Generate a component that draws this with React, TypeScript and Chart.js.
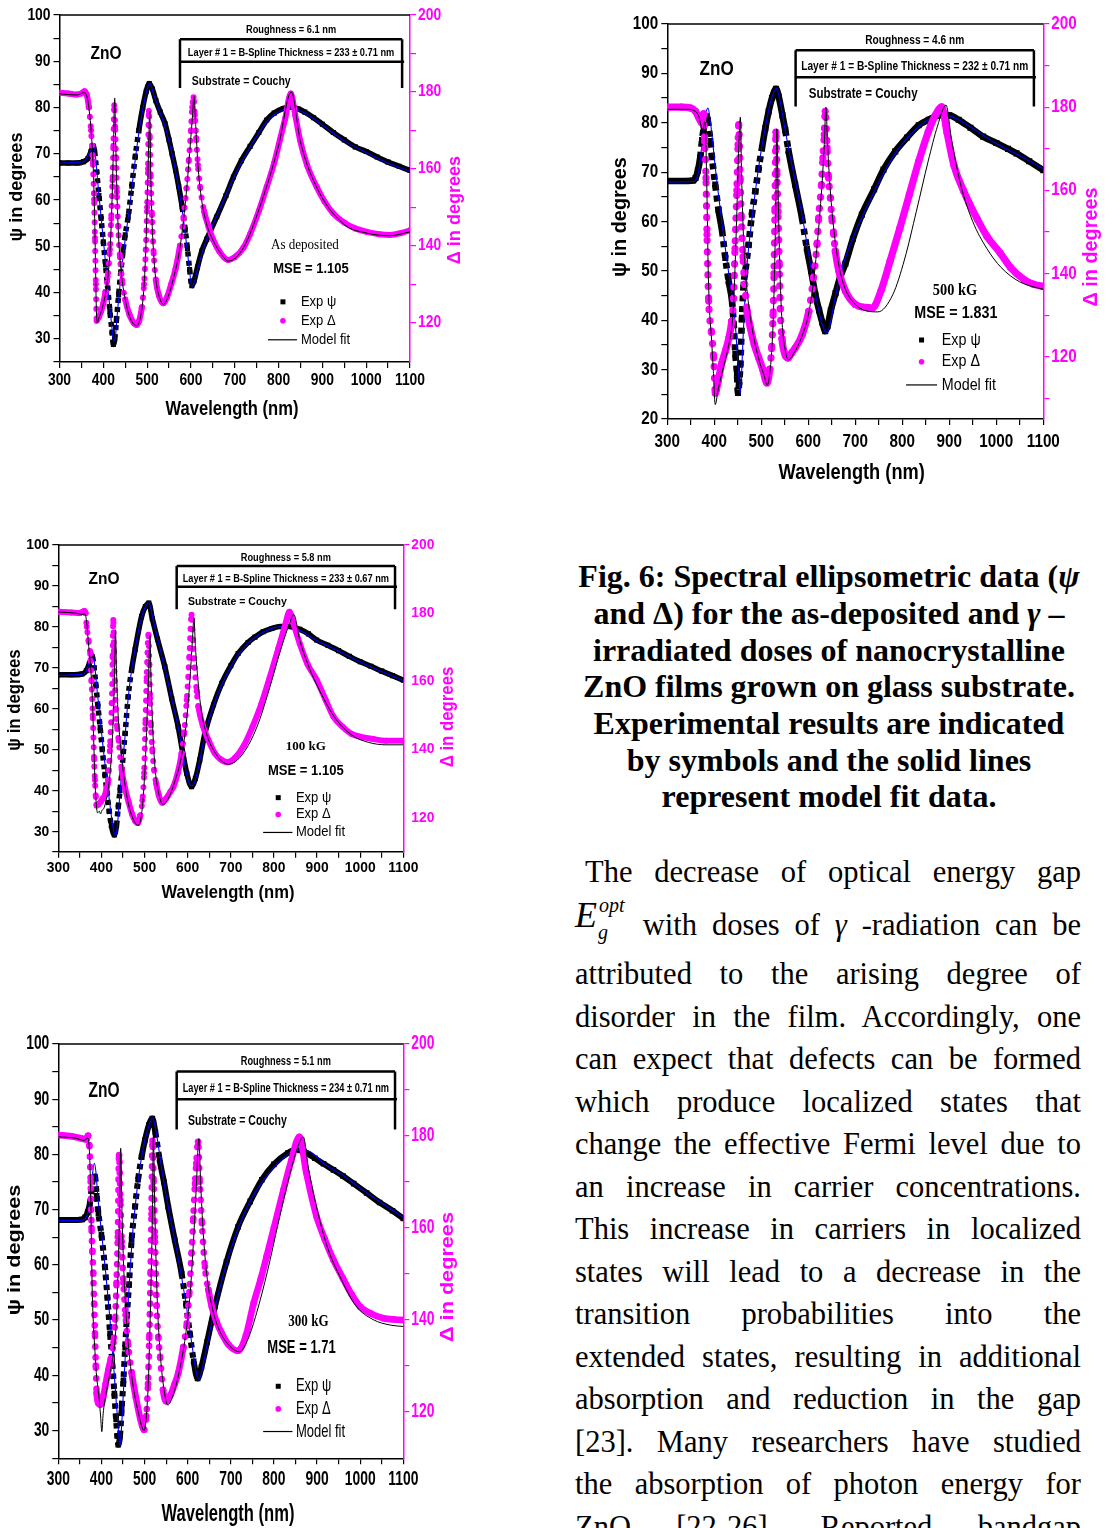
import React, { useEffect, useRef } from "react";
import { Chart, registerables } from "chart.js";

Chart.register(...registerables);

type P = [number, number];

// ---------------- DATA (wavelength nm, value) ----------------
// Panel 1: as deposited
const asDepPsiExp: P[] = [[300,68],[320,68],[340,68],[355,68.3],[365,69],[372,70.5],[377,71.7],[380,70.5],[385,66],[390,61],[395,56],[400,51],[405,46],[410,41],[415,36],[420,31.5],[423,28.8],[426,30],[430,34],[435,39.5],[440,44.5],[445,49],[450,52.5],[457,56.5],[465,63],[473,69.5],[481,75],[490,80],[498,83.5],[505,85.2],[512,84],[520,81.5],[530,79],[541,76.5],[550,73],[557,70],[565,66.5],[572,63],[580,58.5],[587,53.5],[592,49.5],[597,45],[602,41.5],[607,42.5],[615,45.5],[625,49],[636,51.5],[659,56.4],[680,61],[697,65],[715,68.5],[735,71.6],[755,74.6],[773,77.3],[790,78.8],[811,79.8],[827,80.1],[845,79.7],[860,79],[880,77.8],[900,76.4],[925,74.6],[950,73],[975,71.5],[1000,70.5],[1025,69.3],[1050,68.2],[1075,67.3],[1100,66.4]];
const asDepPsiFit: P[] = [[300,68],[355,68.3],[370,70.5],[378,71.8],[382,69.5],[390,61],[400,51.5],[410,41.5],[418,34],[424,29.5],[427,30],[432,35.5],[440,43.5],[450,51.5],[460,58.5],[470,66.5],[480,73.8],[490,79.5],[500,84],[506,85.3],[515,82.8],[530,78.8],[545,74.5],[560,68.5],[575,61],[588,52],[596,45.5],[602,41.3],[607,42],[615,45],[630,50],[660,56.8],[700,65.3],[735,71.4],[775,77.2],[811,79.6],[827,79.9],[860,78.8],[900,76.2],[950,72.8],[1000,70.3],[1050,68],[1100,66.2]];
const asDepDeltaExp: P[] = [[300,179.8],[320,179.6],[340,179.3],[350,179.6],[357,180.2],[362,179.3],[367,176],[372,170],[376,162],[379,152],[381,142],[383,130],[385,120.5],[390,121.5],[395,123],[400,125],[405,128],[410,132],[415,139],[418,147],[421,157],[423,166],[425,176.5],[427,171],[429,163],[431,154],[434,145],[438,137],[443,131],[450,126],[460,122],[470,119.8],[476,119.4],[482,120.5],[488,124],[493,130],[497,139],[500,150],[502,160],[504,175],[506,168],[508,158],[511,148],[515,138],[520,131],[527,127],[537,125],[545,126.5],[555,130],[565,134],[575,140],[583,147],[590,155],[595,162],[600,170],[603,176],[606,178.6],[609,174],[612,168],[616,161],[621,155.3],[630,149],[640,145],[651,141.5],[665,138.5],[685,136.3],[700,137],[720,139.5],[735,143],[755,149],[773,155.3],[790,161.5],[803,167.5],[815,173],[828,179.6],[838,174],[849,167.5],[865,161],[887,155.3],[905,151.5],[925,148.4],[950,146],[975,144.5],[1001,143.6],[1030,143],[1054,142.8],[1080,143.3],[1100,144]];
const asDepDeltaFit: P[] = [[300,179.5],[340,179.2],[355,179.8],[362,179],[368,175],[374,167],[378,157],[381,143],[384,124],[386,120],[390,121.2],[400,124.8],[410,131.5],[416,140],[420,152],[423,165],[426,178.4],[428,168],[431,154],[435,142],[440,134],[450,126],[462,121],[476,119.2],[485,121.5],[492,128],[497,139],[501,155],[504,168],[506,175],[508,160],[511,147],[516,136],[522,129.5],[530,126],[537,124.7],[548,126.8],[560,131.5],[575,139.5],[588,152],[597,164],[603,173],[607,178.8],[611,171],[616,161],[623,153],[635,146],[650,141.5],[668,138],[685,136],[720,139.5],[760,151],[800,166],[829,180],[850,167],[890,154.5],[950,145.5],[1000,143.3],[1054,142.6],[1100,143.6]];

// Panel 2: 500 kG
const kg500PsiExp: P[] = [[300,68.2],[330,68.2],[355,68.3],[360,68.8],[365,70.3],[370,72.9],[374,76.5],[377.5,78.9],[382.3,81.3],[386,80.5],[391.6,76.3],[395,73],[402,67.5],[409,62.3],[416.4,58.2],[423.5,52.6],[430.6,47.9],[437.7,43.9],[441.2,39.3],[444.8,33.2],[448.3,29.2],[450.4,25.3],[453,27.5],[455.4,31],[458.9,40.5],[462.5,47.2],[466,49.9],[473,55.3],[480,61.4],[487.3,66.1],[494.4,70.8],[501.5,74.9],[508.6,78.9],[515.7,82.3],[522.8,85],[531.3,86.9],[537,85.3],[545,81.5],[551,78.5],[558,74.3],[572,67.5],[586.6,60.7],[597,54.5],[606,50],[615,45.2],[623,42],[630,39.5],[636,37.8],[641,38.8],[648,42],[658,45.5],[667,48.5],[679,51.5],[695,56.5],[714,61.4],[740,66.5],[760,70.5],[785,74.2],[810,77],[835,79.5],[856,80.6],[884,81.6],[900,81.5],[920,80.6],[945,79],[972,77.2],[1000,75.9],[1025,74.7],[1043,73.8],[1070,72.2],[1100,70.4]];
const kg500PsiFit: P[] = [[300,68],[355,68.1],[362,68.6],[368,71],[373,75],[378,79.5],[383,82.3],[386.5,83],[390,81.5],[395,77.5],[402,71],[410,64.5],[420,57],[430,50],[440,43.5],[446,37.5],[450,31.5],[453,27.5],[455,25.1],[458,29],[461,36],[465,44],[470,51.5],[480,60.5],[490,68],[500,74.5],[510,79.8],[520,84.3],[532,87],[538,85.3],[550,79],[560,73.8],[575,67],[590,59.5],[605,51],[618,44],[630,39],[640,37.5],[647,39.5],[658,45],[670,50],[690,55.5],[715,61],[745,67],[785,73.8],[830,78.8],[870,81.3],[890,81.6],[920,80.6],[960,78.2],[1000,75.8],[1050,73.3],[1100,70.7]];
const kg500DeltaExp: P[] = [[300,180],[330,180],[350,179.8],[360,179],[367,177.5],[373.8,176.2],[377.4,178.4],[379.5,171.8],[382.3,163],[384.5,149.4],[388,133.4],[393.7,126.2],[398.7,119.8],[402.2,111.3],[408,114],[416,118.5],[424,121.5],[431,124.5],[437,128.5],[441,134],[444,146],[448,160],[450.5,171],[452,175.8],[455,163],[457.5,153.4],[461,144],[464.6,137.4],[470,131],[476.7,127],[485,123],[494.4,119.8],[503,117],[512,113.7],[518,117],[522,122],[525,130],[527,140],[529,155],[531,174],[533.4,163.8],[535.5,155],[538.3,142],[540.4,131.6],[544,124.4],[551,120.4],[557,119.7],[565,121],[572,122.1],[587,125.3],[601,130.9],[611,139],[618.5,147],[622,153.4],[628,161.4],[631,167.8],[634,173.4],[636,179],[640,170.2],[643,163],[647,158.2],[650,153.4],[654,149.4],[657.5,145.4],[665,140.6],[679,135.8],[700,132.6],[728,131.8],[736,131.7],[755,136],[774,143],[795,151],[815,159],[835,167],[855,174],[870,178],[884,180.1],[895,174],[910,166],[930,160],[942,157],[960,153],[980,149],[1008,145],[1030,141.5],[1060,138.5],[1080,137.4],[1100,136.9]];
const kg500DeltaFit: P[] = [[300,179.5],[340,179.5],[360,179],[367,177.8],[372,175.5],[376,174],[379,176.5],[381,175.5],[383,167],[385,155],[387,141],[390,131],[394,124.5],[398,116.5],[402,108.5],[408,112],[416,116],[424,119.5],[431,123],[437,127],[441,132.5],[444,141],[448,155],[451,167],[455.5,177.6],[458,164],[461,152],[465,142.5],[471,134.5],[478,128.5],[487,123],[497,118.5],[506,115.5],[512.5,113.2],[519,117],[523,123],[526,131],[529,145],[531,158],[533,174.8],[535.5,161],[538,148],[541,136],[545,127],[551,121.5],[558,119.3],[570,121],[585,124.5],[600,130],[611,138],[619,147],[625,155],[630,163],[634,171],[637.5,180],[641,171],[645,163],[650,155.5],[657,148],[665,142],[678,136.5],[700,132.6],[725,131],[748,130.8],[780,135],[805,143.5],[830,155],[855,167],[875,175.5],[893,180.5],[905,172],[925,161],[950,152.5],[980,146],[1010,141.5],[1050,138],[1100,136.2]];

// Panel 3: 100 kG
const kg100PsiExp: P[] = [[300,68.3],[330,68.3],[355,68.5],[365,69.3],[372,71],[379,72.7],[383,70],[387,66],[392,60.5],[397,55.5],[402,50],[408,44],[413,39.5],[418,35],[423,31.5],[430,29.2],[435,31.5],[439,36],[443,40],[447,44.2],[451,49.5],[455,54],[462,63],[470,69.5],[478,74.4],[486,79],[493,82.5],[502,85],[510,85.8],[518,82],[530,77],[547,70.3],[563,62.5],[578,55.6],[590,48.5],[598,44.2],[609,41],[618,43],[628,47.5],[640,54],[660,61],[679,66.2],[700,70.5],[717,73.5],[740,76.2],[756,77.5],[775,78.8],[795,79.6],[814,80.1],[835,80.1],[860,79.4],[880,78.3],[899,76.8],[925,75.5],[950,74.2],[975,72.8],[1000,71.5],[1025,70.4],[1050,69.2],[1075,68.1],[1100,67]];
const kg100PsiFit: P[] = [[300,68.2],[355,68.4],[368,70],[375,73],[379,74.3],[383,72],[390,64.5],[398,56.5],[406,48.5],[414,41.5],[421,35.5],[427,31],[433,29],[437,31.5],[442,38],[448,45.5],[455,53.5],[462,62.5],[470,69.5],[480,75.8],[490,81],[500,84.5],[510,85.9],[520,81.7],[535,75],[550,68.5],[565,61.5],[580,54.5],[595,45.5],[605,41.5],[612,41.2],[620,43.5],[640,53.5],[660,60.8],[700,70.3],[740,76],[780,79],[815,80],[850,79.6],[900,76.6],[950,74.1],[1000,71.4],[1050,69.1],[1100,66.9]];
const kg100DeltaExp: P[] = [[300,180.4],[330,180.2],[350,180],[360,180.6],[363,180],[366,176],[370,172],[374,168],[377,160],[380,150],[383,137],[385,131],[387,126],[389,123.5],[393,123.8],[398,124.5],[403,125.5],[408,126.5],[412,128.5],[416,131],[420,141],[424,153.5],[426,167],[427.5,178],[429,169],[431,160],[433,152],[436,147],[440,142.5],[447,134],[455,128.5],[463,124.5],[471,121],[478,119],[484,118.3],[490,120.5],[495,125],[499,133],[502,147.6],[505,161],[509,173.6],[511,165],[513,155],[515,147],[518,140],[522,134],[527,130],[533,126.5],[541,124.3],[550,125.5],[560,127.5],[567,129],[577,133],[586,138.8],[592,145],[598,154.5],[604,167.2],[609,179.5],[612,172],[616,164],[621,157],[625,152.5],[635,147],[648,142.7],[663,138.8],[677,137],[692,136.2],[710,137.5],[730,141],[750,146.5],[770,153],[790,161],[810,169.5],[825,176],[836,180.4],[845,177],[860,171],[878,165],[899,160.4],[920,154.5],[938,149.6],[960,146.5],[980,144.5],[1000,143.7],[1030,143],[1060,142.5],[1100,142.5]];
const kg100DeltaFit: P[] = [[300,180.3],[340,180],[355,179.6],[362,179.8],[366,177],[370,171],[375,164],[379,155],[382,143],[385,131],[388,124],[391,121.3],[395,121.8],[398,121],[401,122],[405,122.5],[410,124.5],[416,128.5],[422,136],[427,148],[430,160],[432.6,175.1],[435,163],[438,152],[443,142.5],[450,134],[460,125.5],[472,120],[485,117.6],[492,120],[497,126],[502,137],[506,150],[509.5,162],[512.6,173.5],[515,160],[519,146],[524,135],[532,127.5],[543,123.8],[555,125.5],[570,130.5],[585,137.5],[597,148],[605,160],[611,172],[614.5,178.6],[618,170],[624,160],[632,151],[645,144],[662,139.3],[680,136.4],[695,135.6],[715,136.8],[740,141],[765,148],[790,158],[815,169],[835,176.5],[846,179.6],[860,172],[880,164.5],[905,157.5],[940,149.5],[980,144.2],[1020,142],[1060,141.3],[1100,141.3]];

// Panel 4: 300 kG
const kg300PsiExp: P[] = [[300,68.1],[330,68.1],[355,68.2],[362,68.6],[368,69.5],[373,71],[377,73.5],[381,75.8],[385,76],[389,72.5],[393,69.3],[400,65.5],[408,59.7],[414,54],[420,47.6],[425,42.5],[430,36.7],[434,32],[437,29],[439,27.4],[443,29],[447,34],[451,39.1],[455,45],[459,50.6],[464,56.5],[470,64.5],[478,70.5],[485,75.4],[493,79.5],[501,82.6],[510,85.3],[518,86.5],[525,84],[535,79],[545,75],[555,70.5],[570,64.5],[586,58.4],[596,53],[605,47.6],[614,42.5],[623,39.4],[632,41.5],[645,46],[663,52.4],[690,60.5],[717,66.9],[745,71.5],[772,75.4],[800,78.2],[833,80.3],[850,80.8],[870,80.5],[895,79.3],[915,78.3],[938,77.2],[960,76.1],[985,74.7],[1015,73],[1045,71.3],[1075,69.8],[1100,68.4]];
const kg300PsiFit: P[] = [[300,68],[355,68.1],[365,68.6],[372,71],[378,75.5],[383.5,78.4],[387,77],[392,72],[400,66],[410,58.5],[420,50],[428,42],[434,35.5],[439,30.5],[443,27.2],[447,31],[452,38.5],[458,47.5],[465,57],[472,65.3],[480,71.8],[490,78],[500,82.3],[510,85.2],[519,86.6],[527,84],[540,77.3],[555,70.5],[575,62.5],[595,53.5],[610,45.5],[620,40.5],[626,39.2],[632,40.5],[645,45.5],[665,52.8],[700,62.8],[740,70.8],[780,75.8],[820,79.2],[850,80.8],[880,80.6],[920,78.1],[960,76.2],[1000,73.9],[1050,71.2],[1100,68.6]];
const kg300DeltaExp: P[] = [[300,180.2],[330,179.9],[355,179.4],[365,179.2],[369,180],[372,178],[375,170],[377,160],[379,155],[381,150],[383,143.5],[385,137],[387,130],[389,124],[393,121.8],[397,121.5],[401,121.8],[405,123.5],[410,126],[416,129],[422,131.5],[428,135],[432,140],[435,148],[438,158],[441,175.8],[444,166],[447,157],[451,148],[456,141],[462,134.5],[470,128.5],[480,123],[490,118.5],[499,116],[504,119],[508,126],[511,136],[514,150],[516,163],[518.5,178.9],[521,170],[524,158],[528,143],[532,136],[536,131.9],[543,124.6],[550,122.2],[560,123.5],[570,126],[578,128.3],[590,134],[598,139.2],[604,146],[609,154.4],[613,162],[617,169.6],[620,174],[624,178.7],[628,170],[633,161],[640,151.5],[648,146.5],[656,142.8],[667,139.5],[679,137],[695,134.5],[717,133.2],[735,136.5],[753,143.6],[770,149],[783,153.7],[800,160],[822,168.2],[840,174.5],[859,179.8],[875,172],[899,162.4],[918,157.5],[938,153],[960,149],[980,145.5],[1000,142.8],[1025,141.3],[1054,140.3],[1080,140],[1100,139.9]];
const kg300DeltaFit: P[] = [[300,179.8],[340,179.5],[360,179],[368,179.5],[372,177],[375,168],[377,155],[379,145],[382,138],[385,133],[388,128.5],[392,125],[395,122.5],[398,119],[401,115.6],[404,119.5],[410,123.5],[418,127.5],[426,131.5],[432,136],[436,143],[439,152],[442,163],[444.7,177.3],[447,166],[451,153],[456,143],[463,134],[472,126.5],[485,120],[499,115.8],[505,120],[509,127],[513,140],[516,152],[518.5,165],[520.5,180],[523,168],[526,155],[530,143],[536,133],[544,125.5],[554,121.4],[566,123.5],[580,128.5],[595,136.5],[606,146],[614,158],[620,169],[626,179.4],[630,170],[636,159],[644,150],[656,143],[672,138],[695,134.5],[720,133],[740,135.8],[760,141.5],[785,150.5],[810,161],[835,171],[855,177.5],[868,179.8],[880,173],[900,164],[925,155.5],[955,149],[990,143],[1030,140],[1070,138.8],[1100,138.5]];

// tick labels
const wavelengthTickLabels = [300, 400, 500, 600, 700, 800, 900, 1000, 1100];
const psiTickLabels = [30, 40, 50, 60, 70, 80, 90, 100];
const psiTickLabelsWide = [20, 30, 40, 50, 60, 70, 80, 90, 100];
const deltaTickLabels = [120, 140, 160, 180, 200];

// panel texts
const roughnessTexts = ["Roughness = 6.1 nm", "Roughness = 4.6 nm", "Roughness = 5.8 nm", "Roughness = 5.1 nm"];
const layerTexts = [
  "Layer # 1 = B-Spline Thickness = 233 \u00b1 0.71 nm",
  "Layer # 1 = B-Spline Thickness = 232 \u00b1 0.71 nm",
  "Layer # 1 = B-Spline Thickness = 233 \u00b1 0.67 nm",
  "Layer # 1 = B-Spline Thickness = 234 \u00b1 0.71 nm",
];
const doseLabels = ["As deposited", "500 kG", "100 kG", "300 kG"];
const mseTexts = ["MSE = 1.105", "MSE = 1.831", "MSE = 1.105", "MSE = 1.71"];

// ---------------- STYLE / LAYOUT ----------------
const MAGENTA = "#ff00ff";
const BLUE = "#0000ff";
const SANS = '"Liberation Sans", Arial, Helvetica, sans-serif';
const SERIF = '"Liberation Serif", "Times New Roman", serif';

interface Ann {
  boxX0: number; boxX1: number; boxTop: number; boxMid: number; boxBot: number;
  roughY: number; layerY: number; subX: number; subY: number;
  znoX: number; znoY: number; labelX: number; labelY: number; mseX: number; mseY: number;
  legMarkX: number; legTextX: number; legY: [number, number, number]; legLine: [number, number];
}

interface Panel {
  idx: number;
  left: number; top: number; w: number; h: number;
  area: { l: number; r: number; t: number; b: number };
  psiMin: number; deltaMin: number;
  psiLabels: number[];
  psiExp: P[]; psiFit: P[]; deltaExp: P[]; deltaFit: P[];
  fx: number; fy: number; lw: number;
  xLabelY: number; xTitleX: number; xTitleY: number;
  yTitleX: number; yTitleY: number; y2TitleX: number; y2TitleY: number;
  ann: Ann;
}

const panels: Panel[] = [
  {
    idx: 0, left: 0, top: 0, w: 475, h: 425,
    area: { l: 59.5, r: 410, t: 15, b: 362 },
    psiMin: 25, deltaMin: 109.75, psiLabels: psiTickLabels,
    psiExp: asDepPsiExp, psiFit: asDepPsiFit, deltaExp: asDepDeltaExp, deltaFit: asDepDeltaFit,
    fx: 1, fy: 1, lw: 1,
    xLabelY: 380, xTitleX: 232, xTitleY: 410, yTitleX: 17, yTitleY: 187, y2TitleX: 455, y2TitleY: 210,
    ann: { boxX0: 575, boxX1: 1082, boxTop: 94.75, boxMid: 89.9, boxBot: 84.2, roughY: 96.8, layerY: 91.8, subX: 602, subY: 85.7,
      znoX: 406, znoY: 91.6, labelX: 860, labelY: 50.3, mseX: 874, mseY: 45.1,
      legMarkX: 810, legTextX: 851, legY: [38, 33.9, 29.8], legLine: [776, 842] },
  },
  {
    idx: 1, left: 600, top: 0, w: 505, h: 490,
    area: { l: 67.3, r: 443.3, t: 24, b: 419 },
    psiMin: 20, deltaMin: 105.05, psiLabels: psiTickLabelsWide,
    psiExp: kg500PsiExp, psiFit: kg500PsiFit, deltaExp: kg500DeltaExp, deltaFit: kg500DeltaFit,
    fx: 1.1, fy: 1.1, lw: 1.2,
    xLabelY: 441.7, xTitleX: 251.7, xTitleY: 473, yTitleX: 20, yTitleY: 217, y2TitleX: 491.7, y2TitleY: 247,
    ann: { boxX0: 573, boxX1: 1080, boxTop: 94.7, boxMid: 89.2, boxBot: 83.3, roughY: 96.6, layerY: 91.4, subX: 601, subY: 85.8,
      znoX: 405, znoY: 90.9, labelX: 912, labelY: 46, mseX: 914, mseY: 41.4,
      legMarkX: 841, legTextX: 884, legY: [36, 31.6, 26.9], legLine: [808, 874] },
  },
  {
    idx: 2, left: 0, top: 530, w: 475, h: 380,
    area: { l: 58.3, r: 403.3, t: 15, b: 321.7 },
    psiMin: 25.1, deltaMin: 109.9, psiLabels: psiTickLabels,
    psiExp: kg100PsiExp, psiFit: kg100PsiFit, deltaExp: kg100DeltaExp, deltaFit: kg100DeltaFit,
    fx: 1, fy: 0.93, lw: 1,
    xLabelY: 338, xTitleX: 228, xTitleY: 363, yTitleX: 15, yTitleY: 170, y2TitleX: 448, y2TitleY: 187,
    ann: { boxX0: 574.5, boxX1: 1080.8, boxTop: 94.9, boxMid: 89.8, boxBot: 84.3, roughY: 96.7, layerY: 91.7, subX: 600.7, subY: 86.2,
      znoX: 406, znoY: 91.6, labelX: 874, labelY: 50.7, mseX: 874, mseY: 44.9,
      legMarkX: 810, legTextX: 851, legY: [38.3, 34.2, 29.8], legLine: [775, 843] },
  },
  {
    idx: 3, left: 0, top: 1030, w: 475, h: 498,
    area: { l: 58.3, r: 403.3, t: 14, b: 428.3 },
    psiMin: 24.95, deltaMin: 109.8, psiLabels: psiTickLabels,
    psiExp: kg300PsiExp, psiFit: kg300PsiFit, deltaExp: kg300DeltaExp, deltaFit: kg300DeltaFit,
    fx: 1, fy: 1.2, lw: 1.1,
    xLabelY: 450, xTitleX: 228, xTitleY: 485, yTitleX: 15, yTitleY: 220, y2TitleX: 448, y2TitleY: 247,
    ann: { boxX0: 574.5, boxX1: 1080.8, boxTop: 95, boxMid: 90, boxBot: 84.5, roughY: 96.8, layerY: 92, subX: 600.7, subY: 86.1,
      znoX: 406, znoY: 91.5, labelX: 880, labelY: 49.7, mseX: 864, mseY: 44.9,
      legMarkX: 810, legTextX: 851, legY: [38, 33.9, 29.8], legLine: [775, 843] },
  },
];

interface TO { size: number; bold?: boolean; italic?: boolean; family?: string; color?: string; align?: CanvasTextAlign; sx?: number; sy?: number; rot?: number; }

function T(ctx: CanvasRenderingContext2D, s: string, x: number, y: number, o: TO) {
  ctx.save();
  ctx.translate(x, y);
  if (o.rot) ctx.rotate(o.rot);
  ctx.scale(o.sx ?? 1, o.sy ?? 1);
  ctx.font = `${o.italic ? "italic " : ""}${o.bold ? "bold " : ""}${o.size}px ${o.family ?? SANS}`;
  ctx.fillStyle = o.color ?? "#000";
  ctx.textAlign = o.align ?? "center";
  ctx.textBaseline = "middle";
  ctx.fillText(s, 0, 0);
  ctx.restore();
}

const toXY = (arr: P[]) => arr.map(([x, y]) => ({ x, y }));
const steep = (c: any) => Math.abs(c.p1.y - c.p0.y) > 6 * Math.abs(c.p1.x - c.p0.x);

function decorPlugin(p: Panel) {
  return {
    id: "decor" + p.idx,
    afterDraw(chart: any) {
      const ctx: CanvasRenderingContext2D = chart.ctx;
      const ca = chart.chartArea;
      const xs = chart.scales.x, ys = chart.scales.y, y2 = chart.scales.y2;
      const X = (v: number) => xs.getPixelForValue(v);
      const Y = (v: number) => ys.getPixelForValue(v);
      const fx = p.fx, fy = p.fy;
      const N = 0.84; // condensed factor

      // top frame line
      ctx.save();
      ctx.strokeStyle = "#000";
      ctx.lineWidth = 1.5;
      ctx.beginPath();
      ctx.moveTo(ca.left, ca.top);
      ctx.lineTo(ca.right, ca.top);
      ctx.stroke();
      ctx.restore();

      // tick labels
      for (const v of p.psiLabels) T(ctx, String(v), ca.left - 9, Y(v), { size: 16.5, bold: true, sx: N * fx, sy: fy, align: "right" });
      for (const v of deltaTickLabels) T(ctx, String(v), ca.right + 8, y2.getPixelForValue(v), { size: 16.5, bold: true, sx: N * fx, sy: fy, align: "left", color: MAGENTA });
      for (const v of wavelengthTickLabels) T(ctx, String(v), X(v), p.xLabelY, { size: 16.5, bold: true, sx: N * fx, sy: fy });

      // axis titles
      T(ctx, "Wavelength (nm)", p.xTitleX, p.xTitleY, { size: 19.5, bold: true, sx: 0.85 * fx, sy: fy });
      T(ctx, "\u03c8 in degrees", p.yTitleX, p.yTitleY, { size: 19, bold: true, sx: 0.95 * fy, sy: fx, rot: -Math.PI / 2 });
      T(ctx, "\u0394 in degrees", p.y2TitleX, p.y2TitleY, { size: 19, bold: true, sx: 0.95 * fy, sy: fx, rot: -Math.PI / 2, color: MAGENTA });

      // annotation box
      const a = p.ann;
      ctx.save();
      ctx.strokeStyle = "#000";
      ctx.lineWidth = 2.5;
      ctx.beginPath();
      ctx.moveTo(X(a.boxX0), Y(a.boxTop)); ctx.lineTo(X(a.boxX1), Y(a.boxTop));
      ctx.moveTo(X(a.boxX0), Y(a.boxMid)); ctx.lineTo(X(a.boxX1) + 2, Y(a.boxMid));
      ctx.moveTo(X(a.boxX0), Y(a.boxTop)); ctx.lineTo(X(a.boxX0), Y(a.boxBot));
      ctx.moveTo(X(a.boxX1), Y(a.boxTop)); ctx.lineTo(X(a.boxX1), Y(a.boxBot));
      ctx.stroke();
      ctx.restore();
      const cx = (X(a.boxX0) + X(a.boxX1)) / 2;
      T(ctx, roughnessTexts[p.idx], cx, Y(a.roughY), { size: 11, bold: true, sx: N * fx, sy: fy });
      T(ctx, layerTexts[p.idx], cx, Y(a.layerY), { size: 11, bold: true, sx: N * fx, sy: fy });
      T(ctx, "Substrate = Couchy", X(a.subX), Y(a.subY), { size: 12.5, bold: true, sx: N * fx, sy: fy, align: "left" });
      T(ctx, "ZnO", X(a.znoX), Y(a.znoY), { size: 18.5, bold: true, sx: N * fx, sy: fy });
      T(ctx, doseLabels[p.idx], X(a.labelX), Y(a.labelY), { size: 14.5, bold: p.idx !== 0, family: SERIF, sx: 0.9 * fx, sy: fy });
      T(ctx, mseTexts[p.idx], X(a.mseX), Y(a.mseY), { size: 15.5, bold: true, sx: N * fx, sy: fy });

      // legend
      const mx = X(a.legMarkX);
      ctx.save();
      ctx.fillStyle = "#000";
      ctx.fillRect(mx - 2.5, Y(a.legY[0]) - 2.5, 5, 5);
      ctx.fillStyle = MAGENTA;
      ctx.beginPath();
      ctx.arc(mx, Y(a.legY[1]), 2.8, 0, Math.PI * 2);
      ctx.fill();
      ctx.strokeStyle = "#000";
      ctx.lineWidth = 1.2;
      ctx.beginPath();
      ctx.moveTo(X(a.legLine[0]), Y(a.legY[2]));
      ctx.lineTo(X(a.legLine[1]), Y(a.legY[2]));
      ctx.stroke();
      ctx.restore();
      const lt = X(a.legTextX);
      T(ctx, "Exp \u03c8", lt, Y(a.legY[0]), { size: 15.5, sx: N * fx, sy: fy, align: "left" });
      T(ctx, "Exp \u0394", lt, Y(a.legY[1]), { size: 15.5, sx: N * fx, sy: fy, align: "left" });
      T(ctx, "Model fit", lt, Y(a.legY[2]), { size: 15.5, sx: N * fx, sy: fy, align: "left" });
    },
  };
}

function makeConfig(p: Panel): any {
  const a = p.area;
  const lw = p.lw;
  return {
    type: "line",
    data: {
      datasets: [
        {
          label: "Model fit \u0394", data: toXY(p.deltaFit), yAxisID: "y2",
          borderColor: "#000", borderWidth: 1, pointRadius: 0, cubicInterpolationMode: "monotone", fill: false,
        },
        {
          label: "Exp \u0394", data: toXY(p.deltaExp), yAxisID: "y2",
          borderColor: MAGENTA, borderWidth: 6 * lw, borderCapStyle: "round", borderJoinStyle: "round",
          pointRadius: 3 * lw, pointStyle: "circle", pointBackgroundColor: MAGENTA, pointBorderWidth: 0,
          cubicInterpolationMode: "monotone", fill: false,
          segment: { borderDash: (c: any) => (steep(c) ? [0.1, 9.5 * lw] : undefined) },
        },
        {
          label: "Model fit \u03c8", data: toXY(p.psiFit), yAxisID: "y",
          borderColor: BLUE, borderWidth: 1.1, pointRadius: 0, cubicInterpolationMode: "monotone", fill: false,
        },
        {
          label: "Exp \u03c8", data: toXY(p.psiExp), yAxisID: "y",
          borderColor: "#000", borderWidth: 5.5 * lw, borderCapStyle: "butt", borderJoinStyle: "round",
          pointRadius: 3.6 * lw, pointStyle: "rect", pointBackgroundColor: "#000", pointBorderWidth: 0,
          cubicInterpolationMode: "monotone", fill: false,
          segment: { borderDash: (c: any) => (steep(c) ? [5 * lw, 4 * lw] : undefined) },
        },
      ],
    },
    options: {
      animation: false,
      responsive: false,
      maintainAspectRatio: false,
      devicePixelRatio: 1,
      events: [],
      layout: { padding: { top: a.t, left: 0, right: 0, bottom: 0 } },
      plugins: { legend: { display: false }, tooltip: { enabled: false } },
      scales: {
        x: {
          type: "linear", min: 300, max: 1100,
          afterFit: (s: any) => { s.height = p.h - a.b; },
          ticks: { display: false, stepSize: 50 },
          grid: { drawOnChartArea: false, drawTicks: true, tickLength: 6, color: "#000", tickColor: "#000", lineWidth: 1.2 },
          border: { display: true, color: "#000", width: 1.5 },
        },
        y: {
          type: "linear", position: "left", min: p.psiMin, max: 100,
          afterFit: (s: any) => { s.width = a.l; },
          ticks: { display: false, stepSize: 5 },
          grid: { drawOnChartArea: false, drawTicks: true, tickLength: 6, color: "#000", tickColor: "#000", lineWidth: 1.2 },
          border: { display: true, color: "#000", width: 1.5 },
        },
        y2: {
          type: "linear", position: "right", min: p.deltaMin, max: 200,
          afterFit: (s: any) => { s.width = p.w - a.r; },
          ticks: { display: false, stepSize: 10 },
          grid: {
            drawOnChartArea: false, drawTicks: true, tickLength: 6, color: MAGENTA, lineWidth: 1.2,
            tickColor: (c: any) => (c.tick && Math.abs(c.tick.value % 10) < 1e-6 ? MAGENTA : "rgba(0,0,0,0)"),
          },
          border: { display: true, color: MAGENTA, width: 1.5 },
        },
      },
    },
    plugins: [decorPlugin(p)],
  };
}

function PanelChart({ p }: { p: Panel }) {
  const ref = useRef<HTMLCanvasElement>(null);
  useEffect(() => {
    const chart = new Chart(ref.current as HTMLCanvasElement, makeConfig(p));
    return () => chart.destroy();
  }, [p]);
  return (
    <canvas
      ref={ref}
      width={p.w}
      height={p.h}
      style={{ position: "absolute", left: p.left, top: p.top, width: p.w, height: p.h }}
    />
  );
}

// ---------------- TEXT COLUMN ----------------
const captionLines: React.ReactNode[] = [
  <>Fig. 6: Spectral ellipsometric data (<i>{"\u03c8"}</i></>,
  <>and {"\u0394"}) for the as-deposited and <i>{"\u03b3"}</i> {"\u2013"}</>,
  "irradiated doses of nanocrystalline",
  "ZnO films grown on glass substrate.",
  "Experimental results are indicated",
  "by symbols and the solid lines",
  "represent model fit data.",
];

const BODY_FS = 30.5;
const BODY_BASE = 0.891 * BODY_FS - (1.107 * BODY_FS - BODY_FS) / 2;

const bodyLines: React.ReactNode[] = [
  "The decrease of optical energy gap",
  <>
    <span style={{ fontStyle: "italic", fontSize: 36, position: "relative", top: -8 }}>E</span>
    <span style={{ display: "inline-block", position: "relative", width: 31, height: 1 }}>
      <span style={{ position: "absolute", left: 2, top: -38.5, fontSize: 20, fontStyle: "italic", lineHeight: "20px" }}>opt</span>
      <span style={{ position: "absolute", left: 1, top: -11.5, fontSize: 20, fontStyle: "italic", lineHeight: "20px" }}>g</span>
    </span>{" "}
    with doses of <i>{"\u03b3"}</i> -radiation can be
  </>,
  "attributed to the arising degree of",
  "disorder in the film. Accordingly, one",
  "can expect that defects can be formed",
  "which produce localized states that",
  "change the effective Fermi level due to",
  "an increase in carrier concentrations.",
  "This increase in carriers in localized",
  "states will lead to a decrease in the",
  "transition probabilities into the",
  "extended states, resulting in additional",
  "absorption and reduction in the gap",
  "[23]. Many researchers have studied",
  "the absorption of photon energy for",
  "ZnO [22-26]. Reported bandgap",
];
const bodyBaselines = [883, 933.5, 985, 1027.5, 1070, 1112.5, 1155, 1197.5, 1240, 1282.5, 1325, 1367.5, 1410, 1452.5, 1495, 1537.5];

export default function App() {
  return (
    <div style={{ position: "absolute", left: 0, top: 0, width: 1105, height: 1528, overflow: "hidden", background: "#fff" }}>
      {panels.map((p) => (
        <PanelChart key={p.idx} p={p} />
      ))}
      {captionLines.map((ln, i) => (
        <div
          key={"c" + i}
          style={{
            position: "absolute", left: 564, width: 530, top: 587 + i * 36.67 - 26.8,
            fontFamily: SERIF, fontWeight: "bold", fontSize: 32, lineHeight: "32px",
            textAlign: "center", whiteSpace: "nowrap", color: "#000",
          }}
        >
          {ln}
        </div>
      ))}
      {bodyLines.map((ln, i) => (
        <div
          key={"b" + i}
          style={{
            position: "absolute", left: i === 0 ? 585 : 575, width: i === 0 ? 496 : 506, top: bodyBaselines[i] - BODY_BASE,
            fontFamily: SERIF, fontSize: BODY_FS, lineHeight: BODY_FS + "px", color: "#000",
            textAlign: "justify", textAlignLast: "justify" as any, height: 40, overflow: "visible",
          }}
        >
          {ln}
        </div>
      ))}
    </div>
  );
}
